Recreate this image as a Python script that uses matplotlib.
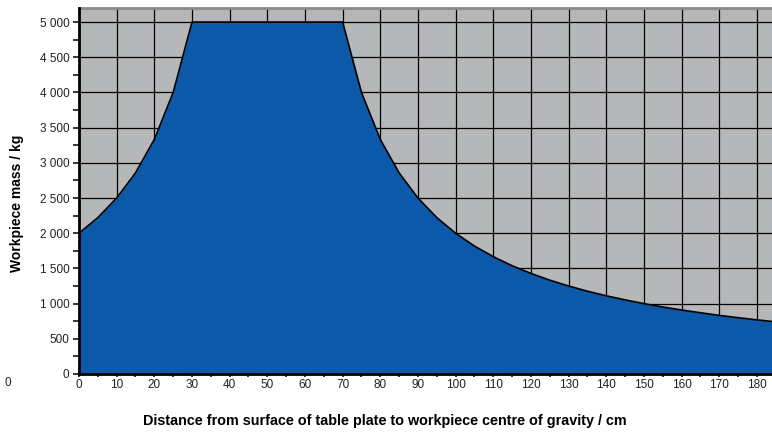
import matplotlib.pyplot as plt
from matplotlib.ticker import MultipleLocator, FuncFormatter

# distance from table plate surface (cm) and permissible workpiece mass (kg)
distance = [0, 5, 10, 15, 20, 25, 30, 70, 75, 80, 85, 90, 95, 100, 105, 110,
            115, 120, 125, 130, 135, 140, 145, 150, 155, 160, 165, 170, 175,
            180, 185]
mass = [2000, 2222, 2500, 2857, 3333, 4000, 5000, 5000, 4000, 3333, 2857,
        2500, 2222, 2000, 1818, 1667, 1538, 1429, 1333, 1250, 1176, 1111,
        1053, 1000, 952, 909, 870, 833, 800, 769, 741]

plt.rcParams['font.family'] = ['Liberation Sans', 'DejaVu Sans']

fig = plt.figure(figsize=(7.72, 4.34), dpi=100)
ax = fig.add_axes([79 / 772, 1 - 374 / 434, 1 - 79 / 772, (374 - 8) / 434])

ax.set_facecolor('#b5b7b9')
ax.fill_between(distance, mass, 0, color='#0b59a8', zorder=2, lw=0)
ax.plot(distance, mass, color='black', lw=1.2, zorder=3)

ax.set_xlim(0, 184)
ax.set_ylim(0, 5200)
ax.xaxis.set_major_locator(MultipleLocator(10))
ax.xaxis.set_minor_locator(MultipleLocator(5))
ax.yaxis.set_major_locator(MultipleLocator(500))
ax.yaxis.set_minor_locator(MultipleLocator(250))
ax.yaxis.set_major_formatter(FuncFormatter(lambda v, p: f'{int(v):,}'.replace(',', ' ')))

ax.grid(which='major', color='black', lw=0.9, zorder=1)
ax.set_axisbelow(True)

ax.tick_params(which='both', direction='out', length=4, width=1.1,
               labelsize=8.5, colors='black', labelcolor='#222222', pad=3)
ax.tick_params(axis='x', which='both', direction='inout', length=5, pad=1)

for s in ['left', 'bottom']:
    ax.spines[s].set_linewidth(2)
    ax.spines[s].set_zorder(4)
ax.spines['top'].set_color('#8a8a8a')
ax.spines['top'].set_linewidth(2)
ax.spines['right'].set_visible(False)

# axis titles sit relative to the figure, not the plot area
fig.text(17 / 772, 1 - 203 / 434, 'Workpiece mass / kg', fontsize=10,
         fontweight='bold', rotation=90, ha='center', va='center')
fig.text(385 / 772, 1 - 421 / 434,
         'Distance from surface of table plate to workpiece centre of gravity / cm',
         fontsize=10.35, fontweight='bold', ha='center', va='center')

fig.text(8 / 772, 1 - 383 / 434, '0', fontsize=8.5, color='#222222',
         ha='center', va='center')

fig.savefig('out.png', dpi=100)
